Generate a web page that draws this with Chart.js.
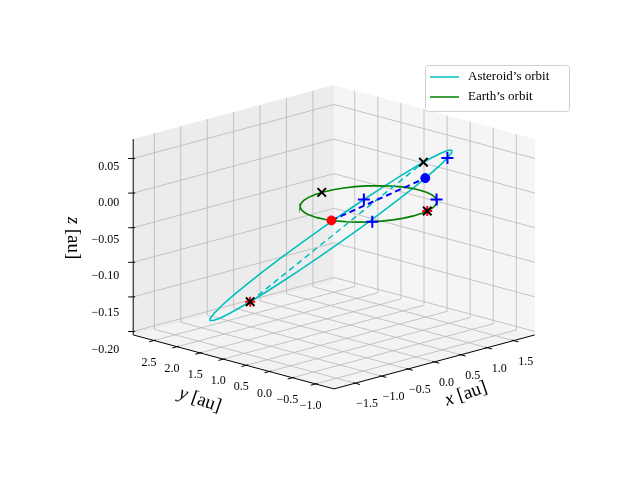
<!DOCTYPE html>
<html><head><meta charset="utf-8">
<script src="https://cdn.jsdelivr.net/npm/chart.js@4/dist/chart.umd.min.js"></script>
<style>html,body{margin:0;padding:0;background:#fff}canvas{display:block}</style>
</head><body>
<canvas id="c" width="640" height="480"></canvas>
<script>
// ---- data ----
const xLim = [-1.9, 1.9];
const yLim = [-1.4, 2.95];
const zLim = [-0.205, 0.078];
const xTicks = [-1.5, -1.0, -0.5, 0.0, 0.5, 1.0, 1.5];
const yTicks = [-1.0, -0.5, 0.0, 0.5, 1.0, 1.5, 2.0, 2.5];
const zTicks = [-0.20, -0.15, -0.10, -0.05, 0.00, 0.05];
const xTickLabels = ['−1.5','−1.0','−0.5','0.0','0.5','1.0','1.5'];
const yTickLabels = ['−1.0','−0.5','0.0','0.5','1.0','1.5','2.0','2.5'];
const zTickLabels = ['−0.20','−0.15','−0.10','−0.05','0.00','0.05'];
const orbitAngles = [0,10,20,30,40,50,60,70,80,90,100,110,120,130,140,150,160,170,180,190,200,210,220,230,240,250,260,270,280,290,300,310,320,330,340,350,360];
const earthRadius = 1.0;
const asteroidCenter = [-0.075, 0.75, -0.059];
const asteroidMajor = [0.925, -1.55, 0.136];
const asteroidMinor = [-1.2, -0.714, 0.026];
const earthCrossAngles = [92, -72];
const earthPlusAngles = [-35, -128];
const earthDotAngles = [196];
const asteroidCrossAngles = [26, -146];
const asteroidPlusAngles = [-30, 60];
const asteroidDotAngles = [-53];
const redMarkEarth = [-72];
const redMarkAsteroid = [-146];
const seriesNames = ["Asteroid’s orbit", "Earth’s orbit"];

// ---- projection ----
const S = 284, CX = 334, CY = 237, H = 0.736, KH = 0.19;
const xc=(xLim[0]+xLim[1])/2, yc=(yLim[0]+yLim[1])/2, zc=(zLim[0]+zLim[1])/2;
const xr=xLim[1]-xLim[0], yr=yLim[1]-yLim[0], zr=zLim[1]-zLim[0];
function proj(x,y,z){
  const u=(x-xc)/xr, v=(y-yc)/yr, w=(z-zc)/zr*H;
  return {x: CX + S*(0.707*u - 0.707*v), y: CY - S*(KH*u + KH*v + 0.937*w)};
}
const d2r = Math.PI/180;
function earthPt(t){ return proj(earthRadius*Math.cos(t*d2r), earthRadius*Math.sin(t*d2r), 0); }
function astPt3(t){ const c=Math.cos(t*d2r), s=Math.sin(t*d2r);
  return [0,1,2].map(i=>asteroidCenter[i]+asteroidMajor[i]*c+asteroidMinor[i]*s); }
function astPt(t){ const p=astPt3(t); return proj(p[0],p[1],p[2]); }

const earthLine = orbitAngles.map(earthPt);
const astLine = orbitAngles.map(astPt);

const serif = "'Liberation Serif', 'DejaVu Serif', serif";

const scenePlugin = {
  id:'scene',
  beforeDatasetsDraw(chart){
    const ctx = chart.ctx;
    const [x0,x1]=xLim,[y0,y1]=yLim,[z0,z1]=zLim;
    function poly(pts, fill){
      ctx.beginPath(); pts.forEach((p,i)=>{const q=proj(...p); i?ctx.lineTo(q.x,q.y):ctx.moveTo(q.x,q.y);});
      ctx.closePath(); ctx.fillStyle=fill; ctx.fill();
    }
    ctx.save();
    poly([[x0,y0,z0],[x1,y0,z0],[x1,y1,z0],[x0,y1,z0]], '#f3f3f3');
    poly([[x0,y1,z0],[x1,y1,z0],[x1,y1,z1],[x0,y1,z1]], '#ececec');
    poly([[x1,y0,z0],[x1,y1,z0],[x1,y1,z1],[x1,y0,z1]], '#f5f5f5');
    function seg(pts){ ctx.beginPath(); pts.forEach((p,i)=>{const q=proj(...p); i?ctx.lineTo(q.x,q.y):ctx.moveTo(q.x,q.y);}); ctx.stroke(); }
    ctx.strokeStyle='#b8b8b8'; ctx.lineWidth=0.8;
    xTicks.forEach(x=>seg([[x,y0,z0],[x,y1,z0],[x,y1,z1]]));
    yTicks.forEach(y=>seg([[x0,y,z0],[x1,y,z0],[x1,y,z1]]));
    zTicks.forEach(z=>seg([[x0,y1,z],[x1,y1,z],[x1,y0,z]]));
    ctx.strokeStyle='#000'; ctx.lineWidth=1;
    seg([[x0,y0,z0],[x1,y0,z0]]);
    seg([[x0,y0,z0],[x0,y1,z0]]);
    seg([[x0,y1,z0],[x0,y1,z1]]);
    function tick(p, q){ const a=proj(...p), b=proj(...q); const dx=b.x-a.x, dy=b.y-a.y, L=Math.hypot(dx,dy);
      ctx.beginPath(); ctx.moveTo(a.x-dx/L*2,a.y-dy/L*2); ctx.lineTo(a.x+dx/L*5,a.y+dy/L*5); ctx.stroke(); return a; }
    ctx.fillStyle='#000'; ctx.font='12px '+serif; ctx.textBaseline='middle';
    ctx.textAlign='center';
    xTicks.forEach((x,i)=>{ const a=tick([x,y0,z0],[x,y0-0.3,z0]); ctx.fillText(xTickLabels[i], a.x+12, a.y+21); });
    yTicks.forEach((y,i)=>{ const a=tick([x0,y,z0],[x0-0.3,y,z0]); ctx.fillText(yTickLabels[i], a.x-5, a.y+22); });
    ctx.textAlign='right';
    zTicks.forEach((z,i)=>{ const a=tick([x0,y1,z],[x0-0.3,y1+0.3,z]); ctx.fillText(zTickLabels[i], a.x-14, a.y+8+10*(0.05-z)/0.25); });
    function title(txt, x, y, rot){ ctx.save(); ctx.translate(x,y); ctx.rotate(rot*d2r);
      ctx.font='italic 19px '+serif; const w1=ctx.measureText(txt[0]+' ').width;
      ctx.font='19px '+serif; const w2=ctx.measureText(txt.slice(2)).width; const st=-(w1+w2)/2;
      ctx.textAlign='left'; ctx.font='italic 19px '+serif; ctx.fillText(txt[0], st, 0);
      ctx.font='19px '+serif; ctx.fillText(txt.slice(2), st+w1, 0); ctx.restore(); }
    title('x [au]', 466, 394, -19);
    title('y [au]', 200, 400, 19);
    title('z [au]', 73, 238, 90);
    ctx.restore();
  },
  afterDraw(chart){
    const ctx=chart.ctx; ctx.save();
    const bx=425, by=65, bw=144, bh=46;
    ctx.fillStyle='rgba(255,255,255,0.85)'; ctx.strokeStyle='#d0d0d0'; ctx.lineWidth=1;
    ctx.beginPath(); ctx.roundRect(bx+0.5,by+0.5,bw,bh,3); ctx.fill(); ctx.stroke();
    const cols=['#00bfbf','#008000'];
    ctx.font='13px '+serif; ctx.fillStyle='#000'; ctx.textBaseline='middle'; ctx.textAlign='left';
    seriesNames.forEach((n,i)=>{ const y=by+12+i*20; ctx.strokeStyle=cols[i]; ctx.lineWidth=1.5;
      ctx.beginPath(); ctx.moveTo(bx+5,y); ctx.lineTo(bx+34,y); ctx.stroke(); ctx.fillText(n, bx+43, y); });
    ctx.restore();
  }
};

const ds = [
  {data: asteroidCrossAngles.map(astPt).concat(earthCrossAngles.map(earthPt)), pointStyle:'crossRot', pointRadius:6, borderColor:'#000', borderWidth:2, showLine:false, order:1},
  {data: asteroidPlusAngles.map(astPt).concat(earthPlusAngles.map(earthPt)), pointStyle:'cross', pointRadius:6, borderColor:'#0000ff', borderWidth:2, showLine:false, order:2},
  {data: asteroidDotAngles.map(astPt), pointStyle:'circle', pointRadius:4.5, backgroundColor:'#0000ff', borderColor:'#0000ff', showLine:false, order:3},
  {data: earthDotAngles.map(earthPt), pointStyle:'circle', pointRadius:4.5, backgroundColor:'#ff0000', borderColor:'#ff0000', showLine:false, order:3},
  {data: redMarkAsteroid.map(astPt).concat(redMarkEarth.map(earthPt)), pointStyle:'cross', pointRadius:5, borderColor:'#ff0000', borderWidth:2, showLine:false, order:4},
  {data: [earthDotAngles.map(earthPt)[0], asteroidDotAngles.map(astPt)[0]], showLine:true, borderColor:'#0000ff', borderWidth:2, borderDash:[6,4], pointRadius:0, order:5},
  {data: asteroidCrossAngles.map(astPt).reverse(), showLine:true, borderColor:'#00bfbf', borderWidth:1.5, borderDash:[6,4], pointRadius:0, order:6},
  {data: earthLine, showLine:true, borderColor:'#008000', borderWidth:1.6, pointRadius:0, order:7},
  {data: astLine, showLine:true, borderColor:'#00bfbf', borderWidth:1.6, pointRadius:0, order:8},
];

new Chart(document.getElementById('c'), {
  type:'scatter',
  data:{datasets: ds},
  options:{
    responsive:false, animation:false, layout:{padding:0},
    plugins:{legend:{display:false}, tooltip:{enabled:false}},
    elements:{line:{tension:0}},
    scales:{x:{type:'linear', min:0, max:640, display:false}, y:{type:'linear', min:0, max:480, reverse:true, display:false}}
  },
  plugins:[scenePlugin]
});
</script>
</body></html>
